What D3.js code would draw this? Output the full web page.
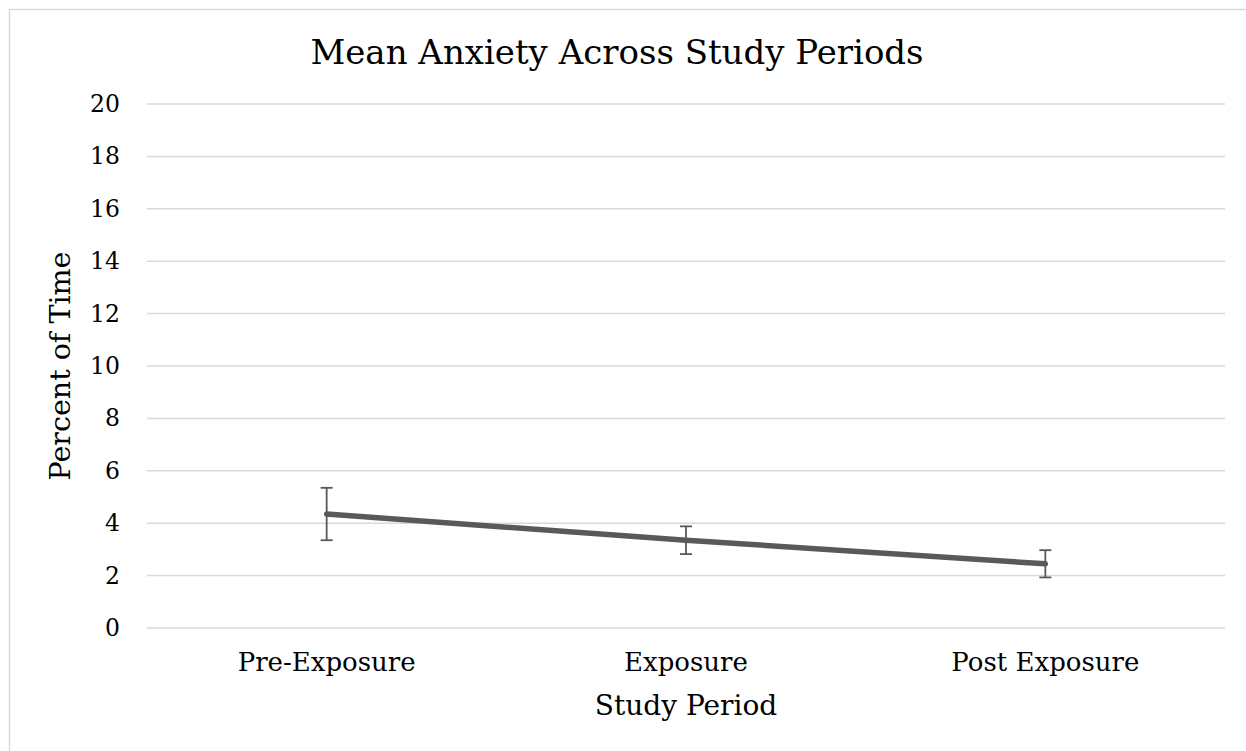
<!DOCTYPE html>
<html>
<head>
<meta charset="utf-8">
<script src="https://cdn.jsdelivr.net/npm/d3@7"></script>
<style>
  html, body { margin: 0; padding: 0; background: #fff; }
  svg { display: block; }
  text { font-family: "DejaVu Serif", "Liberation Serif", serif; fill: #000; }
</style>
</head>
<body>
<svg id="chart" width="1246" height="751"></svg>
<script>
// Study periods and mean anxiety (percent of time) with error-bar half-widths
const periods = ["Pre-Exposure", "Exposure", "Post Exposure"];
const meanAnxiety = [4.35, 3.35, 2.45];
const errorAmount = [1.0, 0.53, 0.52];
const yTicks = [0, 2, 4, 6, 8, 10, 12, 14, 16, 18, 20];

const FONT = "DejaVu Serif";
const svg = d3.select("#chart");
const W = 1246, H = 751;
const margin = { left: 147, right: 21, top: 104, bottom: 123 };

// outer chart frame
svg.append("rect")
  .attr("x", 9.5).attr("y", 9.5)
  .attr("width", W + 20).attr("height", H + 20)
  .attr("fill", "none").attr("stroke", "#d9d9d9").attr("stroke-width", 1.5);

const x = d3.scaleBand()
  .domain(periods)
  .range([margin.left, W - margin.right]);

const y = d3.scaleLinear()
  .domain([0, 20])
  .range([H - margin.bottom, margin.top]);

// horizontal gridlines
svg.append("g")
  .selectAll("line")
  .data(yTicks)
  .join("line")
  .attr("x1", margin.left).attr("x2", W - margin.right)
  .attr("y1", d => y(d)).attr("y2", d => y(d))
  .attr("stroke", "#d9d9d9").attr("stroke-width", 1.5);

// y axis tick labels
const yAxis = d3.axisLeft(y).tickValues(yTicks).tickSize(0).tickPadding(27);
const gy = svg.append("g")
  .attr("transform", `translate(${margin.left},0)`)
  .call(yAxis);
gy.select(".domain").remove();
gy.attr("font-family", FONT).attr("font-size", 23.5);
gy.selectAll("text").attr("fill", "#000");

// x axis category labels
const xAxis = d3.axisBottom(x).tickSize(0).tickPadding(25);
const gx = svg.append("g")
  .attr("transform", `translate(0,${y(0)})`)
  .call(xAxis);
gx.select(".domain").remove();
gx.attr("font-family", FONT).attr("font-size", 26);
gx.selectAll("text").attr("fill", "#000");

const cx = d => x(d) + x.bandwidth() / 2;
const pts = periods.map((p, i) => ({ p, v: meanAnxiety[i], e: errorAmount[i] }));

// mean line
svg.append("path")
  .datum(pts)
  .attr("fill", "none")
  .attr("stroke", "#595959")
  .attr("stroke-width", 5.5)
  .attr("stroke-linecap", "round")
  .attr("d", d3.line().x(d => cx(d.p)).y(d => y(d.v)));

// error bars
const eb = svg.append("g").attr("stroke", "#595959").attr("stroke-width", 1.8);
eb.selectAll("line.v").data(pts).join("line").attr("class", "v")
  .attr("x1", d => cx(d.p)).attr("x2", d => cx(d.p))
  .attr("y1", d => y(d.v + d.e)).attr("y2", d => y(d.v - d.e));
eb.selectAll("line.t").data(pts).join("line").attr("class", "t")
  .attr("x1", d => cx(d.p) - 6).attr("x2", d => cx(d.p) + 6)
  .attr("y1", d => y(d.v + d.e)).attr("y2", d => y(d.v + d.e));
eb.selectAll("line.b").data(pts).join("line").attr("class", "b")
  .attr("x1", d => cx(d.p) - 6).attr("x2", d => cx(d.p) + 6)
  .attr("y1", d => y(d.v - d.e)).attr("y2", d => y(d.v - d.e));

// title
svg.append("text")
  .attr("x", 617).attr("y", 64)
  .attr("text-anchor", "middle")
  .attr("font-size", 34)
  .text("Mean Anxiety Across Study Periods");

// axis titles
svg.append("text")
  .attr("x", cx("Exposure")).attr("y", 715)
  .attr("text-anchor", "middle")
  .attr("font-size", 28)
  .text("Study Period");

svg.append("text")
  .attr("transform", `translate(70,${(y(0) + y(20)) / 2}) rotate(-90)`)
  .attr("text-anchor", "middle")
  .attr("font-size", 28.5)
  .text("Percent of Time");
</script>
</body>
</html>
